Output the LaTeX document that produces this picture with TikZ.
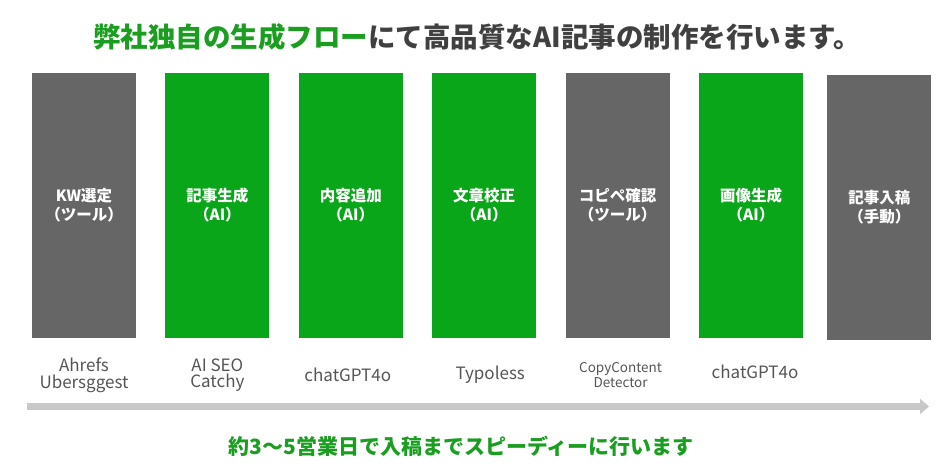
\documentclass[tikz,border=0pt]{standalone}
\usepackage{fontspec}
\setmainfont{Noto Sans CJK JP}
\usepackage{tikz}
\usetikzlibrary{arrows.meta,positioning}

\definecolor{barGreen}{HTML}{0AA619}
\definecolor{barGray}{HTML}{666666}
\definecolor{textGreen}{HTML}{1A9E20}
\definecolor{titleGray}{HTML}{404040}
\definecolor{toolGray}{HTML}{555555}
\definecolor{flowGray}{HTML}{C8C8C8}

\begin{document}
\begin{tikzpicture}[x=1pt,y=-1pt,
	stepbar/.style={rectangle,inner sep=0pt,minimum width=104pt,minimum height=265pt,text=white,align=center,font=\fontsize{15.5}{19}\selectfont\bfseries},
	graybar/.style={stepbar,fill=barGray},
	greenbar/.style={stepbar,fill=barGreen},
	tool/.style={text=toolGray,align=center,inner sep=0pt,font=\fontsize{17}{16.5}\selectfont},
	smalltool/.style={tool,font=\fontsize{13.5}{14.5}\selectfont},
	flow/.style={-{Triangle[length=9pt,width=15pt]},line width=7pt,draw=flowGray}
	] % End Creating Flow Pieces

\useasboundingbox (0,0) rectangle (950,475);

% title
\node [inner sep=0pt,font=\fontsize{27.5}{33}\selectfont\bfseries] at (477,37) (title) {{\color{textGreen}弊社独自の生成フロー}{\color{titleGray}にて高品質なAI記事の制作を行います。}};

% steps
\node [graybar] at (84,205.5) (kw) {KW選定\\（ツール）};
\node [greenbar] [right = 29pt of kw] (gen) {記事生成\\（AI）};
\node [greenbar] [right = 29pt of gen] (add) {内容追加\\（AI）};
\node [greenbar] [right = 29pt of add] (proof) {文章校正\\（AI）};
\node [graybar] [right = 29pt of proof] (copy) {コピペ確認\\（ツール）};
\node [greenbar] [right = 29pt of copy] (img) {画像生成\\（AI）};
\node [graybar] [right = 24pt of img, yshift=-2pt] (post) {記事入稿\\（手動）};

% tools
\node [tool] at (kw.south |- 0,375) (t1) {Ahrefs\\Ubersggest};
\node [tool] at (gen.south |- 0,375) (t2) {AI SEO\\Catchy};
\node [tool,xshift=-3pt] at (add.south |- 0,375) (t3) {chatGPT4o};
\node [tool,xshift=6pt] at (proof.south |- 0,375) (t4) {Typoless};
\node [smalltool,xshift=3pt] at (copy.south |- 0,375) (t5) {CopyContent\\Detector};
\node [tool,xshift=4pt] at (img.south |- 0,372) (t6) {chatGPT4o};

% flow arrow
\coordinate (start) at (27,406.5);
\coordinate (end) at (929,406.5);
\draw[flow] (start) -- (end);

% footer
\node [inner sep=0pt,text=textGreen,font=\fontsize{21}{25}\selectfont\bfseries] at (461,446) (lead) {約3～5営業日で入稿までスピーディーに行います};

\end{tikzpicture}
\end{document}
